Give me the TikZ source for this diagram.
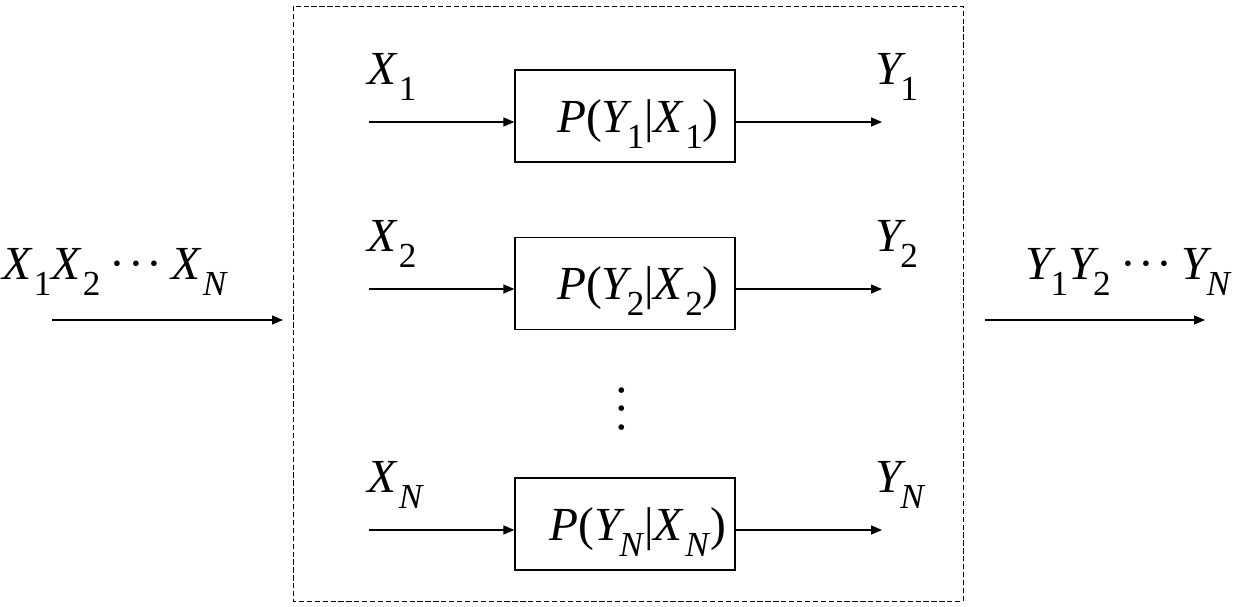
\documentclass[tikz,border=0pt]{standalone}
\usepackage{fontspec}
\setmainfont{Liberation Serif}
\usetikzlibrary{arrows.meta, positioning}

\newcommand{\sv}[3][0.02em]{\textit{#2}\kern#1\raisebox{-0.32em}{\fontsize{20}{20}\selectfont #3}}
\newcommand{\dts}{\kern0.2em·\kern0.05em·\kern0.05em·\kern0.2em}

\tikzset{chan/.style = {draw, line width = .7pt, minimum width = 220*0.02cm, minimum height = 92*0.02cm, inner sep = 0pt},
  lbl/.style = {inner sep = 0pt, font = \fontsize{27}{27}\selectfont},
  arr/.style = {-{Triangle[length = 2.2mm, width = 1.8mm]}, line width = .8pt}}

\begin{document}
\begin{tikzpicture}[x = 0.02cm, y = -0.02cm]
\useasboundingbox (0,0) rectangle (1235,607);
\draw[line width = .5pt, dash pattern = on 3pt off 1.5pt] (293,6) rectangle (963,601);
% channel boxes
\node[chan] (c1) at (625,116) {};
\node[chan] (c2) at (625,283.5) {};
\node[chan] (cn) at (625,524) {};
\node[lbl] (p1) at (638,124) {\textit{P}(\sv[-0.12em]{Y}{1}|\sv{X}{1})};
\node[lbl] (p2) at (638,291) {\textit{P}(\sv[-0.12em]{Y}{2}|\sv{X}{2})};
\node[lbl] (pn) at (638,532) {\textit{P}(\sv[-0.12em]{Y}{\textit{N}}|\sv{X}{\textit{N}})};
% inputs and outputs
\coordinate (i1) at (369,122); \coordinate (o1) at (882,122);
\coordinate (i2) at (369,289); \coordinate (o2) at (882,289);
\coordinate (in) at (369,530); \coordinate (on) at (882,530);
\draw[arr] (i1) -- (i1 -| c1.west);
\draw[arr] (i2) -- (i2 -| c2.west);
\draw[arr] (in) -- (in -| cn.west);
\draw[arr] (o1 -| c1.east) -- (o1);
\draw[arr] (o2 -| c2.east) -- (o2);
\draw[arr] (on -| cn.east) -- (on);
\node[lbl, anchor = base west] (x1) at (367,85) {\sv{X}{1}};
\node[lbl, anchor = base west] (x2) at (367,252) {\sv{X}{2}};
\node[lbl, anchor = base west] (xn) at (367,493) {\sv{X}{\textit{N}}};
\node[lbl, anchor = base west] (y1) at (875,85) {\sv[-0.12em]{Y}{1}};
\node[lbl, anchor = base west] (y2) at (875,252) {\sv[-0.12em]{Y}{2}};
\node[lbl, anchor = base west] (yn) at (875,493) {\sv[-0.12em]{Y}{\textit{N}}};
\node[lbl, rotate = 90] (vd) at (628,409) {\dts};
% whole sequence
\coordinate (a) at (52,320); \coordinate (b) at (283,320);
\coordinate (c) at (985,320); \coordinate (d) at (1205,320);
\draw[arr] (a) -- (b);
\draw[arr] (c) -- (d);
\node[lbl, anchor = base west] (xs) at (2,280) {\sv{X}{1}\sv{X}{2}\dts\sv{X}{\textit{N}}};
\node[lbl, anchor = base east] (ys) at (1232,280) {\sv[-0.12em]{Y}{1}\sv[-0.12em]{Y}{2}\dts\sv[-0.12em]{Y}{\textit{N}}};
\end{tikzpicture}
\end{document}
